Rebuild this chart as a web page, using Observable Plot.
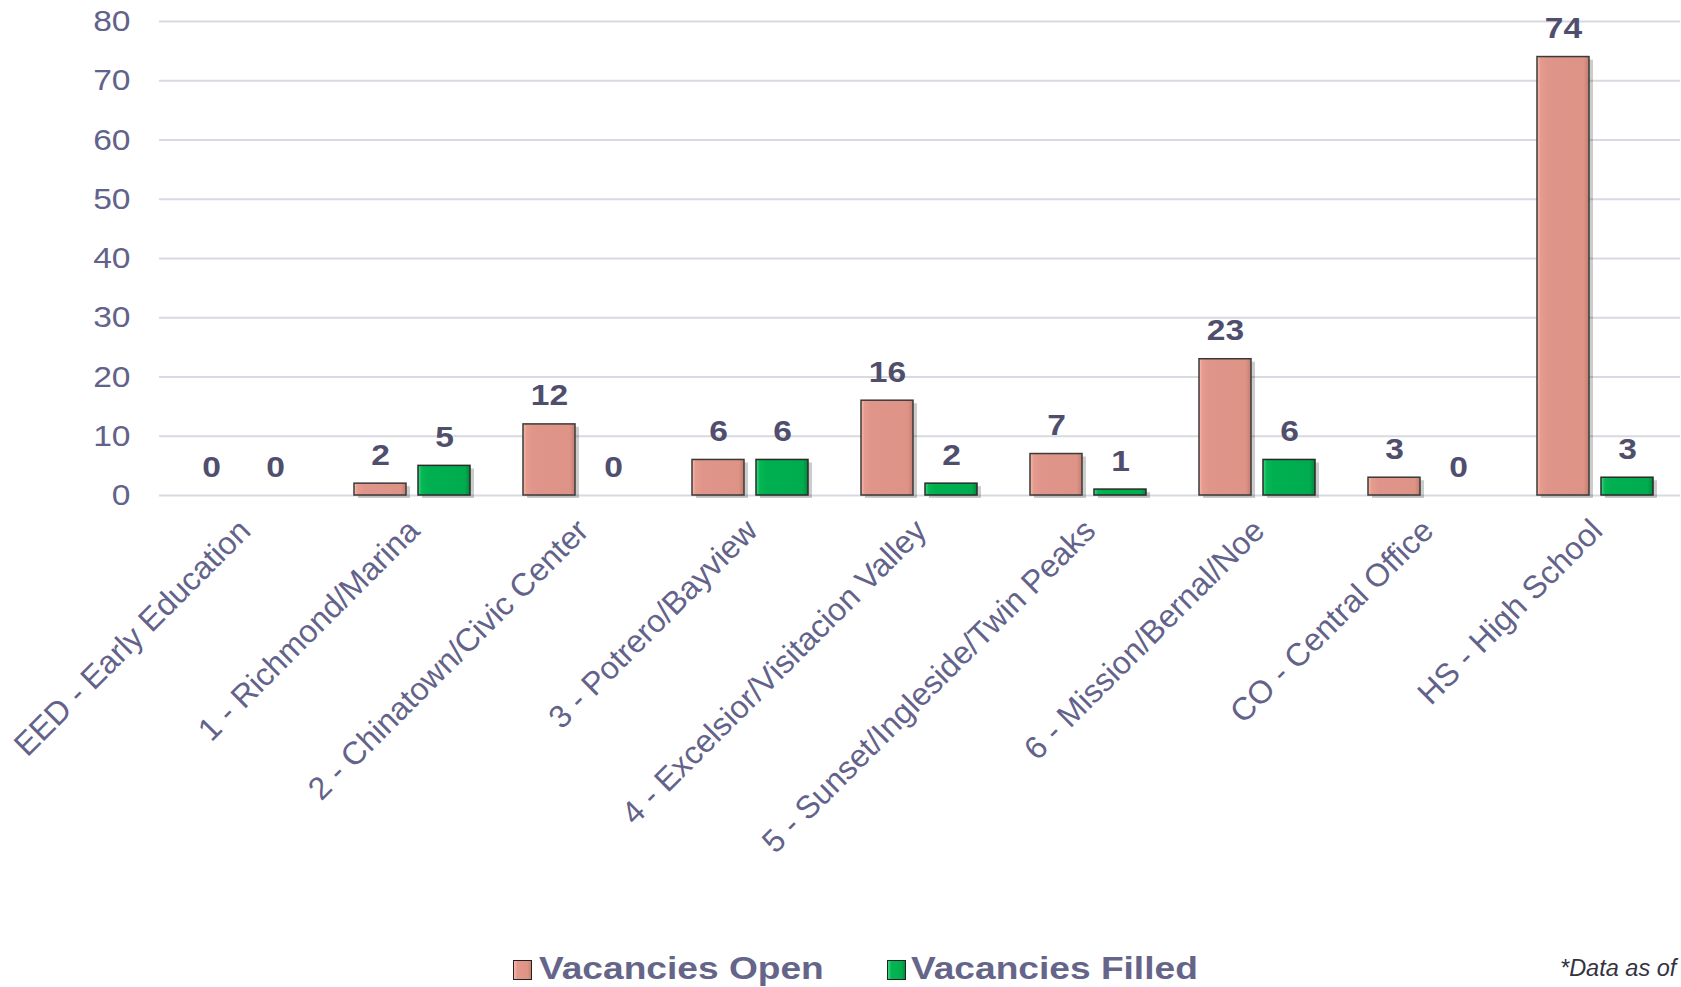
<!DOCTYPE html>
<html>
<head>
<meta charset="utf-8">
<script src="https://cdn.jsdelivr.net/npm/d3@7"></script>
<script src="https://cdn.jsdelivr.net/npm/@observablehq/plot@0.6"></script>
<style>
  html, body { margin: 0; padding: 0; background: #fff; overflow: hidden; }
  #wrap { position: relative; width: 1681px; height: 987px; overflow: hidden; font-family: "Liberation Sans", Arial, sans-serif; }
  #chart svg { display: block; }
  .sw { position: absolute; width: 17px; height: 18px; border: 1.5px solid #222; box-sizing: content-box; }
  .lt { position: absolute; font-size: 32px; font-weight: bold; line-height: 32px; color: #65658a; white-space: nowrap; transform: scaleX(1.16); transform-origin: left center; }
  #note { position: absolute; left: 1560px; top: 957px; font-size: 23.5px; line-height: 23.5px; font-style: italic; color: #33333f; white-space: nowrap; }
</style>
</head>
<body>
<div id="wrap">
  <div id="chart"></div>
  <div class="sw" style="left:513px;top:960px;background:linear-gradient(90deg,#f8b8a8 0%,#e3988c 20%,#de9386 80%,#c98070 100%);"></div>
  <div class="lt" style="left:539px;top:952px;">Vacancies Open</div>
  <div class="sw" style="left:887px;top:960px;background:linear-gradient(90deg,#3fd982 0%,#04b452 20%,#00ae4f 80%,#008c3e 100%);"></div>
  <div class="lt" style="left:911px;top:952px;">Vacancies Filled</div>
  <div id="note">*Data as of</div>
</div>
<script>
const categories = [
  "EED - Early Education",
  "1 - Richmond/Marina",
  "2 - Chinatown/Civic Center",
  "3 - Potrero/Bayview",
  "4 - Excelsior/Visitacion Valley",
  "5 - Sunset/Ingleside/Twin Peaks",
  "6 - Mission/Bernal/Noe",
  "CO - Central Office",
  "HS - High School"
];
const seriesNames = ["Vacancies Open", "Vacancies Filled"];
const vacanciesOpen   = [0, 2, 12, 6, 16, 7, 23, 3, 74];
const vacanciesFilled = [0, 5, 0, 6, 2, 1, 6, 0, 3];
const yTicks = [0, 10, 20, 30, 40, 50, 60, 70, 80];

const rows = [];
categories.forEach((c, i) => {
  rows.push({category: c, series: seriesNames[0], value: vacanciesOpen[i]});
  rows.push({category: c, series: seriesNames[1], value: vacanciesFilled[i]});
});

const axisColor = "#62628a";
const labelColor = "#4f4f6d";

const chart = Plot.plot({
  width: 1681,
  height: 940,
  marginLeft: 157,
  marginRight: 0,
  marginTop: 21,
  marginBottom: 445,
  style: {fontFamily: "'Liberation Sans', Arial, sans-serif", background: "#fff"},
  fx: {domain: categories, padding: 0, label: null, axis: null},
  x: {domain: seriesNames, paddingInner: 0.185, paddingOuter: 0.397, axis: null},
  y: {domain: [0, 80], label: null},
  marks: [
    Plot.gridY(yTicks, {stroke: "#d9d9e2", strokeOpacity: 1, strokeWidth: 2}),
    Plot.axisY(yTicks, {tickSize: 0, tickPadding: 29, fontSize: 30, color: axisColor, label: null, className: "stretch-y"}),
    Plot.axisFx({anchor: "bottom", tickSize: 0, tickRotate: -45, fontSize: 32, color: axisColor, label: null, tickPadding: 30, dx: 1}),
    // shadows
    Plot.barY(rows.filter(d => d.value > 0), {fx: "category", x: "series", y: "value", fill: "#000", fillOpacity: 0.2, dx: 4, dy: 3}),
    Plot.barY(rows.filter(d => d.series === seriesNames[0]), {fx: "category", x: "series", y: "value", fill: "url(#gOpen)", stroke: "#3a3a3a", strokeWidth: 1.5}),
    Plot.barY(rows.filter(d => d.series === seriesNames[1]), {fx: "category", x: "series", y: "value", fill: "url(#gFilled)", stroke: "#2a2a2a", strokeWidth: 1.5}),
    Plot.text(rows, {fx: "category", x: "series", y: "value", text: d => String(d.value), dy: -19, lineAnchor: "bottom", fontSize: 30, fontWeight: "bold", fill: labelColor, className: "stretch-v"})
  ]
});

const svg = d3.select(chart);
const defs = svg.insert("defs", ":first-child");
function grad(id, stops) {
  const g = defs.append("linearGradient").attr("id", id).attr("x1", "0").attr("x2", "1").attr("y1", "0").attr("y2", "0");
  stops.forEach(([o, c]) => g.append("stop").attr("offset", o).attr("stop-color", c));
}
grad("gOpen", [["0", "#fbbcaa"], ["0.07", "#e59b8e"], ["0.2", "#e0958a"], ["0.9", "#de9387"], ["1", "#c47d6f"]]);
grad("gFilled", [["0", "#40dc85"], ["0.07", "#07b755"], ["0.2", "#00b050"], ["0.9", "#00ac4e"], ["1", "#008a3d"]]);

// horizontal stretch of the text as in the reference slide
svg.selectAll(".stretch-y text, .stretch-v text").each(function() {
  const t = this.getAttribute("transform") || "";
  this.setAttribute("transform", (t + " scale(1.12,1)").trim());
});

document.getElementById("chart").appendChild(chart);
</script>
</body>
</html>
